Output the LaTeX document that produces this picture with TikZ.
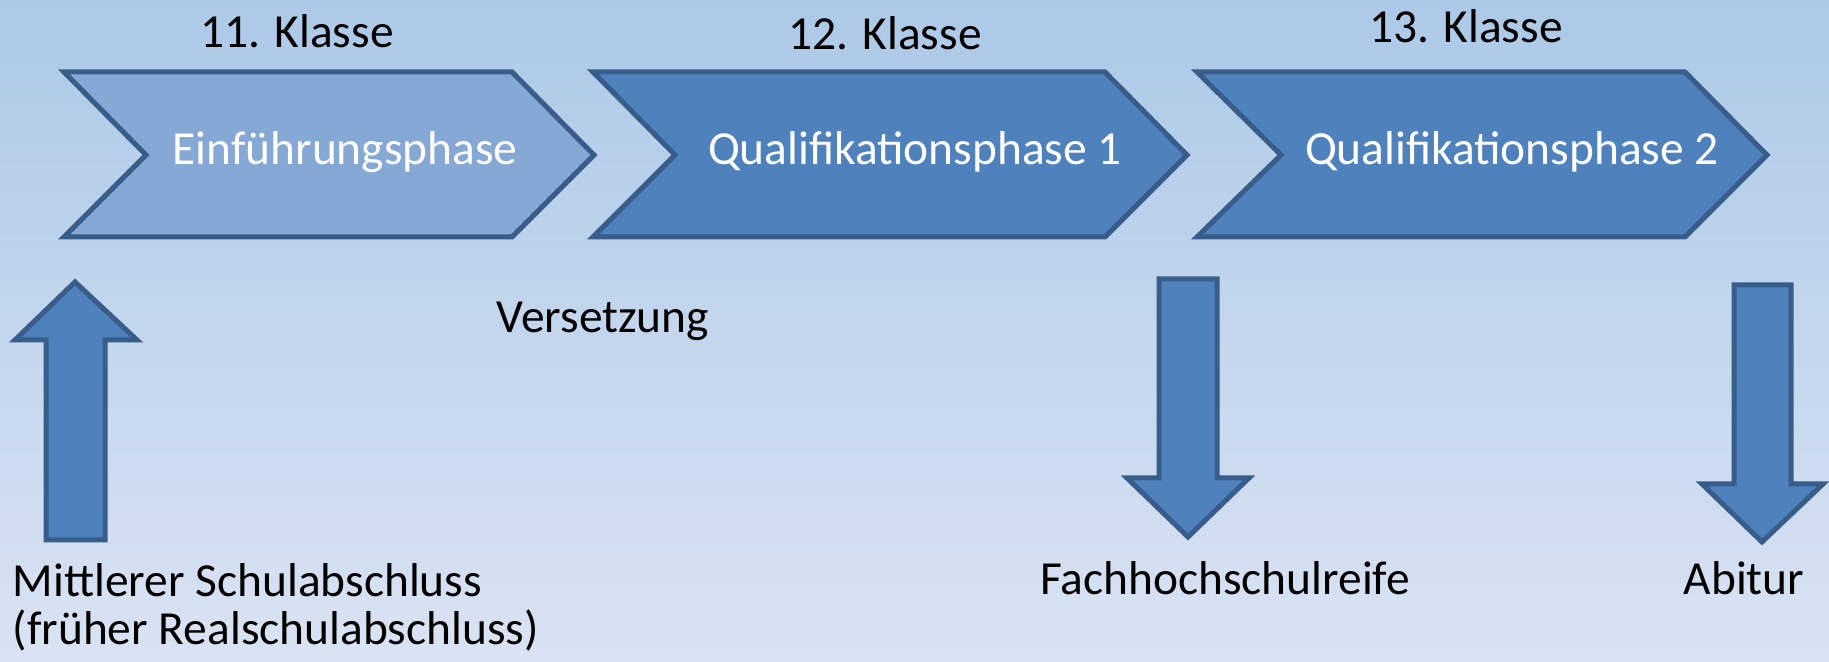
\documentclass[tikz,border=0pt]{standalone}
\usepackage{fontspec}
\setmainfont{Carlito}
\definecolor{bgtop}{RGB}{172,201,231}
\definecolor{bgbottom}{RGB}{218,227,243}
\definecolor{phaselight}{RGB}{134,168,213}
\definecolor{phasedark}{RGB}{79,129,189}
\definecolor{phaseline}{RGB}{56,93,138}
\newcommand{\phasefont}{\fontsize{13.5}{16}\selectfont}
\begin{document}
\begin{tikzpicture}[
    shape line/.style={draw=phaseline, line width=0.050000cm, line join=miter},
    dark shape/.style={shape line, fill=phasedark},
    light shape/.style={shape line, fill=phaselight},
    white text/.style={text=white, inner sep=0pt},
    black text/.style={text=black, inner sep=0pt}]
                \useasboundingbox (0,0) rectangle (18.290000,6.620000);
                {\phasefont
                
                % Filling background
                \fill [top color=bgtop, bottom color=bgbottom] (0,0) rectangle (18.290000,6.620000);%
                
                % Drawing chevron Einfuehrungsphase
                \draw [light shape] (0.640000,5.900000) -- (5.120000,5.900000) -- (5.940000,5.070000) -- (5.120000,4.250000) -- (0.640000,4.250000) -- (1.460000,5.070000) -- cycle;%
                \draw (3.450000,4.970000) node (einf) [white text, anchor=base] {Einführungsphase};%
                
                % Drawing chevron Qualifikationsphase 1
                \draw [dark shape] (5.930000,5.900000) -- (11.050000,5.900000) -- (11.870000,5.070000) -- (11.050000,4.250000) -- (5.930000,4.250000) -- (6.750000,5.070000) -- cycle;%
                \draw (9.150000,4.970000) node (qone) [white text, anchor=base] {Qualifikationsphase 1};%
                
                % Drawing chevron Qualifikationsphase 2
                \draw [dark shape] (11.970000,5.900000) -- (16.850000,5.900000) -- (17.670000,5.070000) -- (16.850000,4.250000) -- (11.970000,4.250000) -- (12.810000,5.070000) -- cycle;%
                \draw (15.120000,4.970000) node (qtwo) [white text, anchor=base] {Qualifikationsphase 2};%
                
                % Marking grades above chevrons
                \draw (2.970000,6.140000) node (klasse11) [black text, anchor=base] {11. Klasse};%
                \draw (8.850000,6.120000) node (klasse12) [black text, anchor=base] {12. Klasse};%
                \draw (14.660000,6.190000) node (klasse13) [black text, anchor=base] {13. Klasse};%
                
                % Marking Versetzung
                \draw (4.960000,3.290000) node (versetzung) [black text, anchor=base west] {Versetzung};%
                
                % Drawing arrow up from Mittlerer Schulabschluss
                \draw [dark shape] (0.460000,1.220000) -- (0.460000,3.220000) -- (0.150000,3.220000) -- (0.750000,3.800000) -- (1.370000,3.220000) -- (1.050000,3.220000) -- (1.050000,1.220000) -- cycle;%
                \draw (0.120000,0.650000) node (msa) [black text, anchor=base west] {Mittlerer Schulabschluss};%
                \draw (0.120000,0.170000) node (rsa) [black text, anchor=base west] {(früher Realschulabschluss)};%
                
                % Drawing arrow down to Fachhochschulreife
                \draw [dark shape] (11.590000,3.830000) -- (11.590000,1.840000) -- (11.270000,1.840000) -- (11.880000,1.250000) -- (12.490000,1.840000) -- (12.170000,1.840000) -- (12.170000,3.830000) -- cycle;%
                \draw (12.250000,0.670000) node (fhr) [black text, anchor=base] {Fachhochschulreife};%
                
                % Drawing arrow down to Abitur
                \draw [dark shape] (17.340000,3.770000) -- (17.340000,1.780000) -- (17.020000,1.780000) -- (17.620000,1.200000) -- (18.230000,1.780000) -- (17.910000,1.780000) -- (17.910000,3.770000) -- cycle;%
                \draw (17.440000,0.670000) node (abitur) [black text, anchor=base] {Abitur};%
                }
            \end{tikzpicture}
\end{document}
